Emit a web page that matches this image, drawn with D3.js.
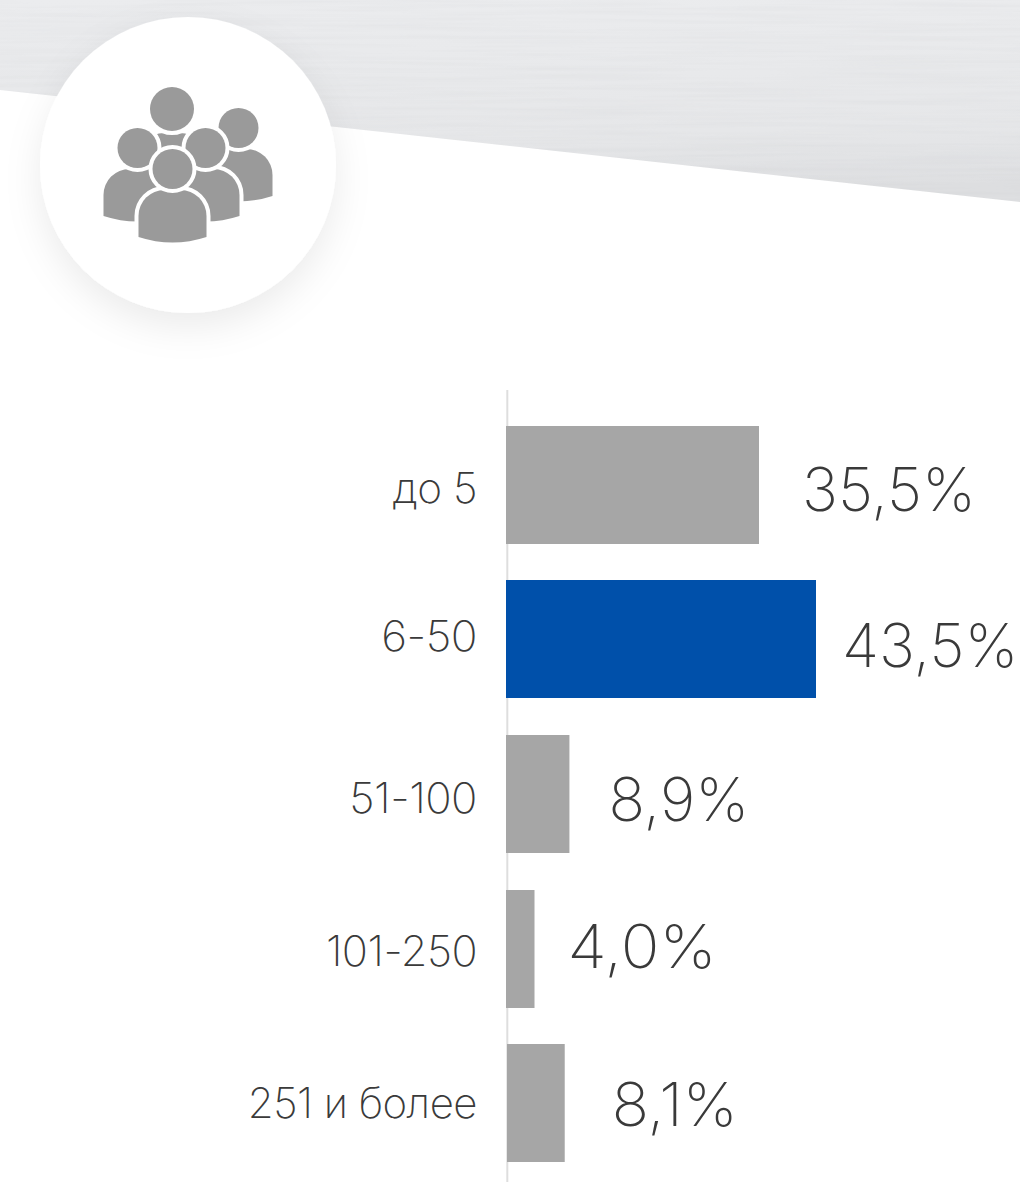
<!DOCTYPE html>
<html>
<head>
<meta charset="utf-8">
<script src="https://cdn.jsdelivr.net/npm/d3@7"></script>
<style>
  html, body { margin: 0; padding: 0; background: #fff; }
  svg { display: block; }
  text { font-family: Inter, "Open Sans", sans-serif; font-weight: 200; fill: #3a3a3a; }
  .categoria { font-size: 42px; text-anchor: end; letter-spacing: -0.5px; }
  .valor { font-size: 60.5px; }
</style>
</head>
<body>
<svg id="grafico"></svg>
<script>
// dados do gráfico
const categorias = ['до 5', '6-50', '51-100', '101-250', '251 и более'];
const valores = [35.5, 43.5, 8.9, 4.0, 8.1];
const destaque = '6-50';

const largura = 1020, altura = 1182;
const svg = d3.select('#grafico').attr('width', largura).attr('height', altura);
const defs = svg.append('defs');

// escalas
const origemX = 506;
const x = d3.scaleLinear().domain([0, 43.5]).range([origemX, 816]);
const y = d3.scaleBand().domain(categorias).range([407.66, 1180.33]).paddingInner(0.2365).paddingOuter(0.118);

// faixa cinza do topo
const grad = defs.append('linearGradient').attr('id', 'faixa').attr('x1', 0).attr('y1', 0).attr('x2', 0.11).attr('y2', 1);
grad.append('stop').attr('offset', '0%').attr('stop-color', '#ebecee');
grad.append('stop').attr('offset', '72%').attr('stop-color', '#e6e7e9');
grad.append('stop').attr('offset', '100%').attr('stop-color', '#dedfe1');

const textura = defs.append('filter').attr('id', 'textura').attr('x', 0).attr('y', 0).attr('width', 1).attr('height', 1);
textura.append('feTurbulence').attr('type', 'fractalNoise').attr('baseFrequency', '0.006 0.25').attr('numOctaves', 2).attr('seed', 4).attr('result', 'ruido');
textura.append('feColorMatrix').attr('in', 'ruido').attr('type', 'matrix')
  .attr('values', '0 0 0 0 0.5  0 0 0 0 0.51  0 0 0 0 0.53  0 0 0 0.22 -0.08').attr('result', 'riscos');
textura.append('feComposite').attr('in', 'riscos').attr('in2', 'SourceGraphic').attr('operator', 'in').attr('result', 'recorte');
textura.append('feMerge').selectAll('feMergeNode').data(['SourceGraphic', 'recorte']).join('feMergeNode').attr('in', d => d);

svg.append('path').attr('d', 'M0,0H1020V202L0,90Z').attr('fill', 'url(#faixa)').attr('filter', 'url(#textura)');

// círculo branco com sombra
const sombra = defs.append('filter').attr('id', 'sombra').attr('x', '-30%').attr('y', '-30%').attr('width', '160%').attr('height', '170%');
sombra.append('feDropShadow').attr('dx', 0).attr('dy', 14).attr('stdDeviation', 18).attr('flood-color', '#000').attr('flood-opacity', 0.08);
svg.append('circle').attr('cx', 188).attr('cy', 165).attr('r', 148).attr('fill', '#fff').attr('filter', 'url(#sombra)');

// ícone de pessoas
function corpo(cx, topo) {
  const p = d3.path();
  p.moveTo(cx - 34, topo + 47);
  p.lineTo(cx - 34, topo + 26);
  p.arcTo(cx - 34, topo, cx - 8, topo, 26);
  p.lineTo(cx + 8, topo);
  p.arcTo(cx + 34, topo, cx + 34, topo + 26, 26);
  p.lineTo(cx + 34, topo + 47);
  p.quadraticCurveTo(cx, topo + 58, cx - 34, topo + 47);
  p.closePath();
  return p.toString();
}
const pessoas = [
  { cx: 172, cy: 109, r: 22, topo: 133 },
  { cx: 238.5, cy: 128, r: 20, topo: 149 },
  { cx: 137.5, cy: 148, r: 20, topo: 169 },
  { cx: 205.5, cy: 148, r: 20, topo: 169 },
  { cx: 172.5, cy: 169, r: 20, topo: 190 }
];
const icone = svg.append('g').attr('fill', '#9a9a9a').attr('stroke', '#fff').attr('stroke-width', 8).style('paint-order', 'stroke');
pessoas.forEach(d => {
  icone.append('path').attr('d', corpo(d.cx, d.topo));
  icone.append('circle').attr('cx', d.cx).attr('cy', d.cy).attr('r', d.r);
});

// linha do eixo
svg.append('line').attr('x1', 507.3).attr('x2', 507.3).attr('y1', 390).attr('y2', altura)
  .attr('stroke', '#dedede').attr('stroke-width', 2);

// barras (a última começa um pixel à direita no original)
const recuoBarra = [0, 0, 0, 0, 1];
svg.selectAll('.barra').data(categorias).join('rect').attr('class', 'barra')
  .attr('x', (d, i) => origemX + recuoBarra[i])
  .attr('y', d => Math.round(y(d)))
  .attr('width', (d, i) => x(valores[i]) - origemX)
  .attr('height', Math.round(y.bandwidth()))
  .attr('fill', d => d === destaque ? '#0050aa' : '#a6a6a6');

// alarga o texto: a fonte do original tem algarismos mais largos
function alarga(sel, fatores) {
  sel.each(function(d, i) {
    d3.select(this)
      .attr('textLength', this.getComputedTextLength() * fatores[i])
      .attr('lengthAdjust', 'spacingAndGlyphs');
  });
}

// rótulos das categorias
const baseCategoria = [503, 651, 813, 966, 1118];
svg.selectAll('.categoria').data(categorias).join('text').attr('class', 'categoria')
  .attr('x', 477)
  .attr('y', (d, i) => baseCategoria[i])
  .text(d => d)
  .call(alarga, [1.01, 1.055, 1.04, 1.03, 1]);

// rótulos dos valores, com os deslocamentos irregulares do original
const deslocaX = [43, 26, 39, 33, 48];
const deslocaY = [85, 87, 86, 78, 82];
svg.selectAll('.valor').data(valores).join('text').attr('class', 'valor')
  .attr('x', (d, i) => x(d) + deslocaX[i])
  .attr('y', (d, i) => y(categorias[i]) + deslocaY[i])
  .text(d => d.toFixed(1).replace('.', ',') + '%')
  .call(alarga, [1, 1, 1, 1.06, 1.02]);
</script>
</body>
</html>
